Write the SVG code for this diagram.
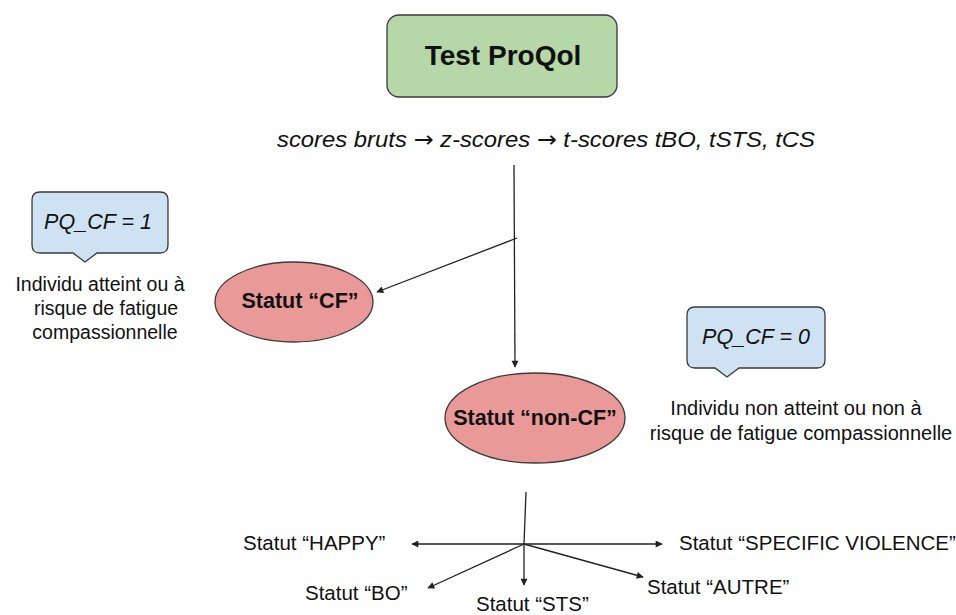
<svg xmlns="http://www.w3.org/2000/svg" width="956" height="615" viewBox="0 0 956 615">
<style>
.t{font-family:"Liberation Sans",Arial,sans-serif;fill:#111}
.b{font-weight:bold}
.i{font-style:italic}
.ar{font-family:"DejaVu Sans",sans-serif;font-style:normal}
.ln{stroke:#222;stroke-width:1.3;fill:none}
.box{stroke:#3a3a3a;stroke-width:1.3}
</style>
<defs>
<marker id="ah" viewBox="0 0 10 10" refX="9" refY="5" markerWidth="8" markerHeight="7" markerUnits="userSpaceOnUse" orient="auto"><path d="M0,0 L10,5 L0,10 z" fill="#222"/></marker>
</defs>
<rect width="956" height="615" fill="#fff"/>
<g id="test">
<rect class="box" x="387" y="15" width="230" height="82" rx="12" fill="#b6d7a8"/>
<text class="t b" x="503" y="65" font-size="28" text-anchor="middle">Test ProQol</text>
</g>
<g id="scores">
<text class="t i" x="277" y="147" font-size="22.5" textLength="538" lengthAdjust="spacingAndGlyphs">scores bruts <tspan class="ar">→</tspan> z-scores <tspan class="ar">→</tspan> t-scores tBO, tSTS, tCS</text>
</g>
<g id="cf">
<ellipse class="box" cx="294" cy="302" rx="79" ry="40" fill="#ea9999"/>
<text class="t b" x="300" y="308" font-size="21.5" text-anchor="middle">Statut “CF”</text>
</g>
<g id="noncf">
<ellipse class="box" cx="535" cy="418" rx="90" ry="45" fill="#ea9999"/>
<text class="t b" x="535" y="425" font-size="21.5" text-anchor="middle">Statut “non-CF”</text>
</g>
<g id="pq1">
<path class="box" fill="#cfe2f3" d="M40,192 H160 Q168,192 168,200 V245 Q168,253 160,253 H97 L85,262 L73,253 H40 Q32,253 32,245 V200 Q32,192 40,192 Z"/>
<text class="t i" x="98" y="229" font-size="21.5" text-anchor="middle">PQ_CF = 1</text>
</g>
<g id="desc1">
<text class="t" x="100" y="291" font-size="19.5" text-anchor="middle">Individu atteint ou à</text>
<text class="t" x="106" y="315" font-size="19.5" text-anchor="middle">risque de fatigue</text>
<text class="t" x="105" y="339" font-size="19.5" text-anchor="middle">compassionnelle</text>
</g>
<g id="pq0">
<path class="box" fill="#cfe2f3" d="M695,307 H817 Q825,307 825,315 V360 Q825,368 817,368 H739 L727,377 L715,368 H695 Q687,368 687,360 V315 Q687,307 695,307 Z"/>
<text class="t i" x="756" y="344" font-size="21.5" text-anchor="middle">PQ_CF = 0</text>
</g>
<g id="desc0">
<text class="t" x="796" y="415" font-size="20" text-anchor="middle">Individu non atteint ou non à</text>
<text class="t" x="801" y="440" font-size="20" text-anchor="middle">risque de fatigue compassionnelle</text>
</g>
<g id="happy"><text class="t" x="243" y="550" font-size="20.5">Statut “HAPPY”</text></g>
<g id="specific"><text class="t" x="679" y="550" font-size="20.5">Statut “SPECIFIC VIOLENCE”</text></g>
<g id="bo"><text class="t" x="305" y="600" font-size="20.5">Statut “BO”</text></g>
<g id="sts"><text class="t" x="476" y="611" font-size="20.5">Statut “STS”</text></g>
<g id="autre"><text class="t" x="647" y="594" font-size="20.5">Statut “AUTRE”</text></g>
<g id="connectors">
<path class="ln" d="M514,165 L515,367" marker-end="url(#ah)"/>
<path class="ln" d="M517,238 L377,292" marker-end="url(#ah)"/>
<path class="ln" d="M526,492 L524,544"/>
<path class="ln" d="M524,544 L412,544" marker-end="url(#ah)"/>
<path class="ln" d="M524,544 L662,544" marker-end="url(#ah)"/>
<path class="ln" d="M524,544 L524,585" marker-end="url(#ah)"/>
<path class="ln" d="M524,544 L428,588" marker-end="url(#ah)"/>
<path class="ln" d="M524,544 L643,577" marker-end="url(#ah)"/>
</g>
</svg>
